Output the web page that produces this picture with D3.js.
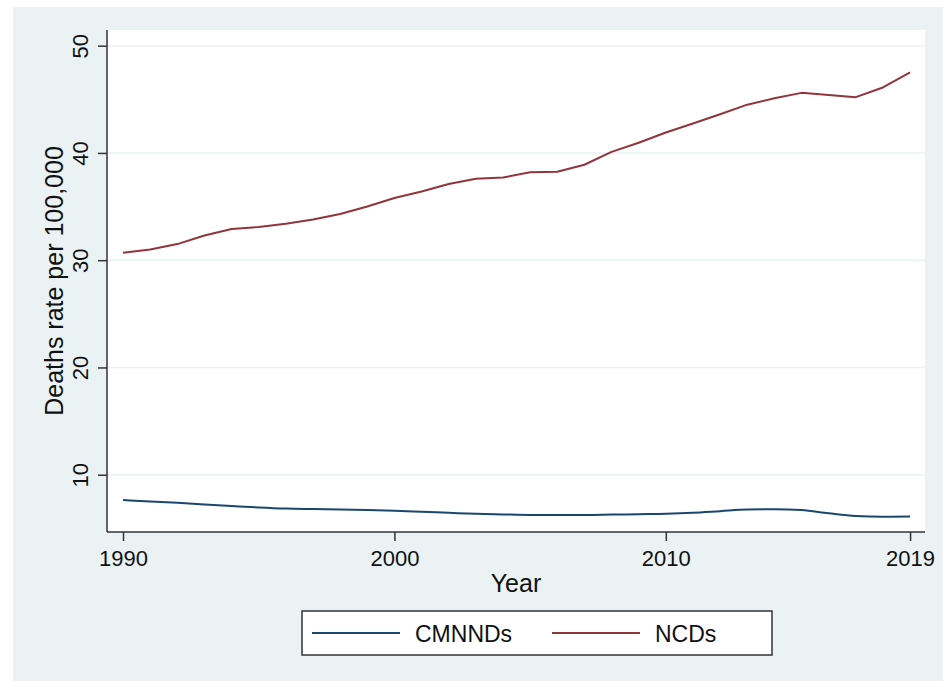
<!DOCTYPE html>
<html>
<head>
<meta charset="utf-8">
<script src="https://cdn.jsdelivr.net/npm/d3@7"></script>
<style>
  html, body { margin: 0; padding: 0; background: #ffffff; }
  svg { display: block; font-family: "Liberation Sans", Arial, sans-serif; }
</style>
</head>
<body>
<svg id="chart" width="943" height="681"></svg>
<script>
// ---- data ----
const years = d3.range(1990, 2020);
const cmnnds = [7.64, 7.50, 7.38, 7.22, 7.08, 6.95, 6.85, 6.80, 6.76, 6.72,
                6.65, 6.55, 6.45, 6.36, 6.30, 6.25, 6.24, 6.24, 6.28, 6.32,
                6.36, 6.45, 6.60, 6.75, 6.78, 6.70, 6.40, 6.15, 6.08, 6.10];
const ncds = [30.7, 31.0, 31.5, 32.3, 32.9, 33.1, 33.4, 33.8, 34.3, 35.0,
              35.8, 36.4, 37.1, 37.6, 37.7, 38.2, 38.25, 38.9, 40.1, 40.95,
              41.9, 42.75, 43.6, 44.5, 45.1, 45.6, 45.4, 45.2, 46.1, 47.5];
const xTicks = [1990, 2000, 2010, 2019];
const yTicks = [10, 20, 30, 40, 50];
const seriesNames = ["CMNNDs", "NCDs"];
const seriesColors = ["#1a476f", "#90353b"];

// ---- layout ----
const W = 943, H = 681;
const plot = { left: 107, right: 925, top: 30, bottom: 532 };

const svg = d3.select("#chart");

// outer background
svg.append("rect").attr("x", 13).attr("y", 7).attr("width", W - 13).attr("height", H - 7)
  .attr("fill", "#eaf2f3");
// plot region
svg.append("rect").attr("x", plot.left).attr("y", plot.top)
  .attr("width", plot.right - plot.left).attr("height", plot.bottom - plot.top)
  .attr("fill", "#ffffff");

const x = d3.scaleLinear().domain([1989.41, 2019.55]).range([plot.left, plot.right]);
const y = d3.scaleLinear().domain([4.66, 51.46]).range([plot.bottom, plot.top]);

// gridlines
svg.append("g").selectAll("line").data(yTicks).join("line")
  .attr("x1", plot.left).attr("x2", plot.right)
  .attr("y1", d => y(d)).attr("y2", d => y(d))
  .attr("stroke", "#eaf2f3").attr("stroke-width", 1.5);

// axes
const yAxis = svg.append("g").attr("transform", `translate(${plot.left},0)`)
  .call(d3.axisLeft(y).tickValues(yTicks).tickSize(9).tickPadding(10).tickFormat(d3.format("d")));
yAxis.select(".domain").attr("d", `M0,${plot.top}V${plot.bottom}`).attr("stroke", "#333").attr("stroke-width", 1.5);
yAxis.selectAll(".tick line").attr("stroke", "#333").attr("stroke-width", 1.5);
yAxis.selectAll(".tick text")
  .attr("font-size", 22).attr("fill", "#111")
  .attr("text-anchor", "middle")
  .attr("x", null).attr("dy", null)
  .attr("transform", "translate(-19,0) rotate(-90)");

const xAxis = svg.append("g").attr("transform", `translate(0,${plot.bottom})`)
  .call(d3.axisBottom(x).tickValues(xTicks).tickSize(9).tickPadding(10).tickFormat(d3.format("d")));
xAxis.select(".domain").attr("d", `M${plot.left},0H${plot.right}`).attr("stroke", "#333").attr("stroke-width", 1.5);
xAxis.selectAll(".tick line").attr("stroke", "#333").attr("stroke-width", 1.5);
xAxis.selectAll(".tick text").attr("font-size", 22).attr("fill", "#111")
  .attr("dy", null).attr("y", 34);

// axis titles
svg.append("text").attr("transform", `translate(63,${(plot.top + plot.bottom) / 2}) rotate(-90)`)
  .attr("text-anchor", "middle").attr("font-size", 25).attr("fill", "#111")
  .text("Deaths rate per 100,000");
svg.append("text").attr("x", (plot.left + plot.right) / 2).attr("y", 592)
  .attr("text-anchor", "middle").attr("font-size", 25).attr("fill", "#111")
  .text("Year");

// lines
const series = [cmnnds, ncds];
const curves = [d3.curveMonotoneX, d3.curveLinear];
series.forEach((vals, i) => {
  const line = d3.line().x((d, j) => x(years[j])).y(d => y(d)).curve(curves[i]);
  svg.append("path").datum(vals).attr("d", line)
    .attr("fill", "none").attr("stroke", seriesColors[i]).attr("stroke-width", 2)
    .attr("stroke-linejoin", "round");
});

// legend
const lg = svg.append("g");
lg.append("rect").attr("x", 302).attr("y", 611).attr("width", 470).attr("height", 44)
  .attr("fill", "#ffffff").attr("stroke", "#333").attr("stroke-width", 1.5);
const legX = [312, 552];
seriesNames.forEach((name, i) => {
  lg.append("line").attr("x1", legX[i]).attr("x2", legX[i] + 88)
    .attr("y1", 633).attr("y2", 633)
    .attr("stroke", seriesColors[i]).attr("stroke-width", 2);
  lg.append("text").attr("x", legX[i] + 103).attr("y", 641.5)
    .attr("font-size", 23).attr("fill", "#111").text(name);
});
</script>
</body>
</html>
